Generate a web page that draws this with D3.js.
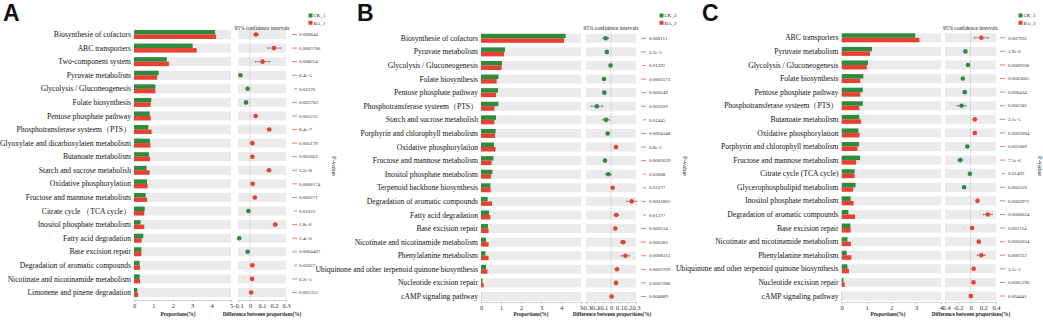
<!DOCTYPE html>
<html>
<head>
<meta charset="utf-8">
<script src="https://cdn.jsdelivr.net/npm/d3@7"></script>
<style>
  html, body { margin: 0; padding: 0; background: #fff; }
  svg { display: block; }
</style>
</head>
<body>
<svg id="chart" width="1043" height="320"></svg>
<script>
// ---- data: panel A (CK_1 vs BA_1)
const categoriesA = [
  "Biosynthesie of cofactors", "ABC transporters", "Two-component system", "Pyruvate metabolism",
  "Glycolysis / Gluconeogenesis", "Folate biosynthesis", "Pentose phosphate pathway",
  "Phosphotransferase systeem\uff08PTS\uff09", "Glyoxylate and dicarboxylaten metabolism", "Butanoate metabolism",
  "Starch and sucrose metabolish", "Oxidative phosphorylation", "Fructose and mannose metabolism",
  "Citrate cycle \uff08TCA cycle\uff09", "Inositol phosphate metabolism", "Fatty acid degradation",
  "Base excision repair", "Degradation of aromatic compounds", "Nicotinate and nicotinamide metabolism",
  "Limonene and pinene degradation"
];
const ckA = [4.18, 3.02, 1.69, 1.27, 1.10, 0.89, 0.81, 0.74, 0.82, 0.77, 0.65, 0.67, 0.60, 0.55, 0.34, 0.48, 0.38, 0.29, 0.29, 0.17];
const baA = [4.23, 3.23, 1.80, 1.19, 1.10, 0.86, 0.86, 0.91, 0.84, 0.82, 0.81, 0.70, 0.67, 0.53, 0.53, 0.39, 0.38, 0.31, 0.31, 0.21];
const diffA = [0.05, 0.20, 0.105, -0.08, -0.02, -0.033, 0.047, 0.16, 0.02, 0.02, 0.158, 0.022, 0.04, -0.013, 0.21, -0.09, -0.02, 0.02, 0.018, 0.01];
const ciA = [0.02, 0.055, 0.06, 0.01, 0.01, 0.01, 0.01, 0.015, 0.01, 0.01, 0.015, 0.01, 0.01, 0.01, 0.015, 0.01, 0.01, 0.01, 0.01, 0.01];
const pA = ["0.009844", "0.0005706", "0.008254", "6.4e-5", "0.02376", "0.003703", "0.001215", "8.4e-7", "0.005179", "0.001663",
  "3.2e-8", "0.0006174", "0.000271", "0.01023", "1.8e-6", "1.4e-6", "0.0004467", "0.02027", "6.2e-5", "0.001355"];
const groupsA = ["CK_1", "BA_1"];
const propTicksA = [0, 1, 2, 3, 4, 5];
const diffTicksA = [-0.1, 0, 0.1, 0.2, 0.3];

// ---- data: panel B (CK_2 vs BA_2)
const categoriesB = [
  "Biosynthesie of cofactors", "Pyruvate metabolism", "Glycolysis / Gluconeogenesis", "Folate biosynthesis",
  "Pentose phosphate pathway", "Phosphotransferase systeem\uff08PTS\uff09", "Starch and sucrose metabolish",
  "Porphyrin and chlorophyll metabolism", "Oxidative phosphorylation", "Fructose and mannose metabolism",
  "Inositol phosphate metabolism", "Terpenoid backbone biosynthesis", "Degradation of aromatic compounds",
  "Fatty acid degradation", "Base excision repair", "Nicotinate and nicotinamide metabolism",
  "Phenylalanine metabolism", "Ubiquinone and other terpenoid quinone biosynthesis", "Nucleotide excision repair",
  "cAMP signaling pathway"
];
const ckB = [4.23, 1.20, 1.05, 0.87, 0.85, 0.87, 0.75, 0.73, 0.65, 0.62, 0.57, 0.47, 0.33, 0.40, 0.35, 0.25, 0.22, 0.25, 0.07, 0.01];
const baB = [4.15, 1.15, 1.03, 0.78, 0.75, 0.67, 0.67, 0.70, 0.73, 0.53, 0.50, 0.48, 0.55, 0.47, 0.38, 0.38, 0.38, 0.32, 0.13, 0.01];
const diffB = [-0.064, -0.05, -0.005, -0.084, -0.08, -0.17, -0.06, -0.04, 0.06, -0.072, -0.032, 0.02, 0.248, 0.064, 0.052, 0.144, 0.172, 0.072, 0.06, 0.008];
const ciB = [0.035, 0.01, 0.01, 0.01, 0.01, 0.07, 0.04, 0.01, 0.01, 0.01, 0.035, 0.01, 0.06, 0.03, 0.01, 0.03, 0.05, 0.01, 0.01, 0.01];
const pB = ["0.008111", "2.3e-5", "0.01391", "0.0003173", "0.000249", "0.002939", "0.01445", "0.0004348", "6.8e-5", "0.0003039",
  "0.02608", "0.01277", "0.0001801", "0.01377", "0.000234", "0.000383", "0.0008315", "0.0003709", "0.0007286", "0.004889"];
const groupsB = ["CK_2", "BA_2"];
const propTicksB = [0, 1, 2, 3, 4, 5];
const diffTicksB = [-0.3, -0.2, -0.1, 0, 0.1, 0.2, 0.3];

// ---- data: panel C (CK_3 vs BA_3)
const categoriesC = [
  "ABC transporters", "Pyruvate metabolism", "Glycolysis / Gluconeogenesis", "Folate biosynthesis",
  "Pentose phosphate pathway", "Phosphotransferase systeem\uff08PTS\uff09", "Butanoate metabolism",
  "Oxidative phosphorylation", "Porphyrin and chlorophyll metabolism", "Fructose and mannose metabolism",
  "Citrate cycle (TCA cycle)", "Glycerophospholipid metabolism", "Inositol phosphate metabolism",
  "Degradation of aromatic compounds", "Base excision repair", "Nicotinate and nicotinamide metabolism",
  "Phenylalanine metabolism", "Ubiquinone and other terpenoid quinone biosynthesis", "Nucleotide excision repair",
  "cAMP signaling pathway"
];
const ckC = [2.96, 1.22, 1.06, 0.87, 0.85, 0.85, 0.71, 0.67, 0.70, 0.74, 0.52, 0.56, 0.36, 0.27, 0.35, 0.23, 0.20, 0.23, 0.07, 0.01];
const baC = [3.13, 1.14, 1.01, 0.75, 0.75, 0.71, 0.78, 0.72, 0.63, 0.58, 0.52, 0.46, 0.48, 0.54, 0.36, 0.37, 0.39, 0.29, 0.12, 0.01];
const diffC = [0.17, -0.08, -0.04, -0.12, -0.09, -0.14, 0.068, 0.068, -0.05, -0.16, -0.01, -0.10, 0.11, 0.27, 0.025, 0.13, 0.17, 0.05, 0.047, 0.005];
const ciC = [0.11, 0.01, 0.01, 0.01, 0.01, 0.07, 0.01, 0.01, 0.01, 0.04, 0.01, 0.01, 0.01, 0.07, 0.01, 0.01, 0.06, 0.01, 0.01, 0.01];
const pC = ["0.007932", "1.9e-6", "0.0009206", "0.0003665", "0.000434", "0.002582", "2.1e-5", "0.0002094", "0.001069", "7.5e-6",
  "0.01493", "0.002559", "0.0002971", "0.0006624", "0.001124", "0.0002034", "0.000722", "3.1e-5", "0.0005196", "0.004441"];
const groupsC = ["CK_3", "BA_3"];
const propTicksC = [0, 1, 2, 3, 4];
const diffTicksC = [-0.4, -0.2, 0, 0.2, 0.4];

const GREEN = "#2e8b3c";
const RED = "#e8412f";
const BAND = "#ebebeb";
const SERIF = "'Liberation Serif', 'Times New Roman', serif";

const panels = [
  { tag: "A", cats: categoriesA, ck: ckA, ba: baA, diff: diffA, ci: ciA, p: pA, groups: groupsA,
    propTicks: propTicksA, diffTicks: diffTicksA,
    lay: { tagX: 3, labelX: 131, bx0: 134, bx1: 231, dx0: 238, dx1: 286, rowTop: 34.5, rowBottom: 292.5, axisY: 300,
           propTitleX: 178, diffTitleX: 262, dashX: 292, pX: 299, legendX: 308.5, pLabelX: 332 } },
  { tag: "B", cats: categoriesB, ck: ckB, ba: baB, diff: diffB, ci: ciB, p: pB, groups: groupsB,
    propTicks: propTicksB, diffTicks: diffTicksB,
    lay: { tagX: 357, labelX: 478, bx0: 481, bx1: 581, dx0: 586, dx1: 636, rowTop: 38.3, rowBottom: 296.5, axisY: 302,
           propTitleX: 531, diffTitleX: 612, dashX: 641, pX: 649, legendX: 659.5, pLabelX: 683 } },
  { tag: "C", cats: categoriesC, ck: ckC, ba: baC, diff: diffC, ci: ciC, p: pC, groups: groupsC,
    propTicks: propTicksC, diffTicks: diffTicksC,
    lay: { tagX: 702, labelX: 838.5, bx0: 841.7, bx1: 941, dx0: 945, dx1: 996, rowTop: 37.8, rowBottom: 296, axisY: 302,
           propTitleX: 888, diffTitleX: 971, dashX: 1000, pX: 1008, legendX: 1018.5, pLabelX: 1038 } }
];

const svg = d3.select("#chart");
const fmtDiff = (v) => (v === 0 ? "0" : String(+v.toFixed(1)));

function styleAxis(g) {
  g.select(".domain").attr("stroke", "#b5b5b5").attr("stroke-width", 0.6);
  g.selectAll(".tick line").attr("stroke", "#b5b5b5").attr("stroke-width", 0.6);
  g.selectAll(".tick text").attr("font-family", SERIF).attr("font-size", 6.5).attr("fill", "#333");
}

panels.forEach((pn) => {
  const L = pn.lay;
  const n = pn.cats.length;
  const step = (L.rowBottom - L.rowTop) / (n - 1);
  const g = svg.append("g");

  const y = d3.scaleBand().domain(pn.cats)
    .range([L.rowTop - step / 2, L.rowBottom + step / 2])
    .paddingInner(0.34).paddingOuter(0.17);
  const bw = y.bandwidth();
  const xb = d3.scaleLinear().domain([0, d3.max(pn.propTicks)]).range([L.bx0, L.bx1]);
  const xd = d3.scaleLinear().domain(d3.extent(pn.diffTicks)).range([L.dx0, L.dx1]);

  const rows = pn.cats.map((c, i) => ({ c, ck: pn.ck[i], ba: pn.ba[i], diff: pn.diff[i], ci: pn.ci[i], p: pn.p[i] }));

  // panel tag
  g.append("text").attr("x", L.tagX).attr("y", 21)
    .attr("font-family", "'Liberation Sans', Arial, sans-serif").attr("font-weight", "bold")
    .attr("font-size", 23).attr("fill", "#111").text(pn.tag);

  // proportion bars
  g.append("g").selectAll("rect").data(rows).join("rect")
    .attr("x", L.bx0).attr("y", (d) => y(d.c))
    .attr("width", L.bx1 - L.bx0).attr("height", bw).attr("fill", BAND);
  g.append("g").selectAll("rect").data(rows).join("rect")
    .attr("x", L.bx0).attr("y", (d) => y(d.c))
    .attr("width", (d) => xb(d.ck) - L.bx0).attr("height", bw / 2).attr("fill", GREEN);
  g.append("g").selectAll("rect").data(rows).join("rect")
    .attr("x", L.bx0).attr("y", (d) => y(d.c) + bw / 2)
    .attr("width", (d) => xb(d.ba) - L.bx0).attr("height", bw / 2).attr("fill", RED);

  // category labels
  g.append("g").selectAll("text").data(rows).join("text")
    .attr("x", L.labelX).attr("y", (d) => y(d.c) + bw / 2).attr("dy", "0.34em")
    .attr("text-anchor", "end").attr("font-family", SERIF).attr("font-size", 7.6).attr("fill", "#111")
    .text((d) => d.c);

  // proportion axis
  g.append("g").attr("transform", `translate(0,${L.axisY})`)
    .call(d3.axisBottom(xb).tickValues(pn.propTicks).tickSize(2).tickPadding(1.5).tickFormat(d3.format("d")))
    .call(styleAxis);
  g.append("text").attr("x", L.propTitleX).attr("y", 316).attr("text-anchor", "middle")
    .attr("font-family", SERIF).attr("font-weight", "bold").attr("font-size", 5.2).attr("fill", "#222")
    .text("Proportions(%)");

  // difference panel
  g.append("g").selectAll("rect").data(rows).join("rect")
    .attr("x", L.dx0).attr("y", (d) => y(d.c))
    .attr("width", L.dx1 - L.dx0).attr("height", bw).attr("fill", BAND);
  g.append("line").attr("x1", xd(0)).attr("x2", xd(0))
    .attr("y1", y(pn.cats[0]) - 2).attr("y2", L.axisY)
    .attr("stroke", "#9a9a9a").attr("stroke-width", 0.6).attr("stroke-dasharray", "1,1.2");

  const eb = g.append("g").attr("stroke", "#555").attr("stroke-width", 0.6);
  eb.selectAll("line.h").data(rows).join("line").attr("class", "h")
    .attr("x1", (d) => xd(d.diff - d.ci)).attr("x2", (d) => xd(d.diff + d.ci))
    .attr("y1", (d) => y(d.c) + bw / 2).attr("y2", (d) => y(d.c) + bw / 2);
  eb.selectAll("line.l").data(rows).join("line").attr("class", "l")
    .attr("x1", (d) => xd(d.diff - d.ci)).attr("x2", (d) => xd(d.diff - d.ci))
    .attr("y1", (d) => y(d.c) + bw / 2 - 0.9).attr("y2", (d) => y(d.c) + bw / 2 + 0.9);
  eb.selectAll("line.r").data(rows).join("line").attr("class", "r")
    .attr("x1", (d) => xd(d.diff + d.ci)).attr("x2", (d) => xd(d.diff + d.ci))
    .attr("y1", (d) => y(d.c) + bw / 2 - 0.9).attr("y2", (d) => y(d.c) + bw / 2 + 0.9);

  g.append("g").selectAll("circle").data(rows).join("circle")
    .attr("cx", (d) => xd(d.diff)).attr("cy", (d) => y(d.c) + bw / 2).attr("r", 2.3)
    .attr("fill", (d) => (d.diff > 0 ? RED : GREEN));

  g.append("g").attr("transform", `translate(0,${L.axisY})`)
    .call(d3.axisBottom(xd).tickValues(pn.diffTicks).tickSize(2).tickPadding(1.5).tickFormat(fmtDiff))
    .call(styleAxis);
  g.append("text").attr("x", L.diffTitleX).attr("y", 316).attr("text-anchor", "middle")
    .attr("font-family", SERIF).attr("font-weight", "bold").attr("font-size", 5.2).attr("fill", "#222")
    .text("Difference between proportions(%)");
  g.append("text").attr("x", (L.dx0 + L.dx1) / 2).attr("y", 30).attr("text-anchor", "middle")
    .attr("font-family", SERIF).attr("font-size", 5.4).attr("fill", "#222")
    .text("95% confidence intervals");

  // p-values
  g.append("g").selectAll("line").data(rows).join("line")
    .attr("x1", (d) => L.dashX + (+d.p >= 0.01 ? 2 : 0)).attr("x2", L.dashX + 5)
    .attr("y1", (d) => y(d.c) + bw / 2).attr("y2", (d) => y(d.c) + bw / 2)
    .attr("stroke", "#f07a72").attr("stroke-width", 1);
  g.append("g").selectAll("text").data(rows).join("text")
    .attr("x", L.pX).attr("y", (d) => y(d.c) + bw / 2).attr("dy", "0.34em")
    .attr("font-family", SERIF).attr("font-size", 5).attr("fill", "#333")
    .text((d) => d.p);
  g.append("text").attr("transform", `translate(${L.pLabelX},166) rotate(90)`)
    .attr("text-anchor", "middle").attr("font-family", SERIF).attr("font-size", 6.5).attr("fill", "#222")
    .text("P-value");

  // legend
  const lg = g.append("g").attr("transform", `translate(${L.legendX},13.5)`);
  lg.selectAll("rect").data(pn.groups).join("rect")
    .attr("x", 0).attr("y", (d, i) => i * 7.3).attr("width", 4).attr("height", 4)
    .attr("fill", (d, i) => (i === 0 ? GREEN : RED));
  lg.selectAll("text").data(pn.groups).join("text")
    .attr("x", 5).attr("y", (d, i) => i * 7.3 + 2).attr("dy", "0.35em")
    .attr("font-family", SERIF).attr("font-size", 5).attr("fill", "#222")
    .text((d) => d);
});
</script>
</body>
</html>
